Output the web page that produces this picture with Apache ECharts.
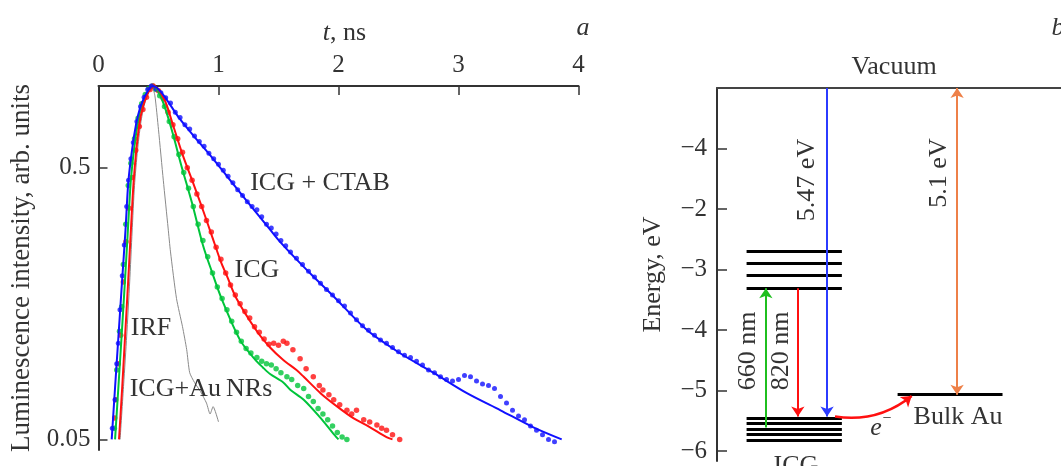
<!DOCTYPE html>
<html lang="en">
<head>
<meta charset="UTF-8">
<title>ICG luminescence decay and energy diagram</title>
<style>
    * { margin: 0; padding: 0; }
    html, body { width: 100%; height: 100%; background: #fff; }
    #main { width: 1061px; height: 466px; }
</style>
<script src="https://cdn.jsdelivr.net/npm/echarts@6/dist/echarts.min.js"></script>
</head>
<body>
<div id="main"></div>
<script>
// ---- panel a: luminescence decay, pairs of [t (ns), intensity (arb. units)] ----
var irf = [[0.18,0.05],[0.21,0.08],[0.235,0.12],[0.26,0.19],[0.28,0.29],[0.30,0.43],[0.325,0.58],[0.35,0.72],
    [0.375,0.83],[0.405,0.92],[0.43,0.98],[0.445,1.0],[0.47,0.92],[0.50,0.69],[0.54,0.45],[0.58,0.30],[0.60,0.245],
    [0.65,0.165],[0.70,0.13],[0.735,0.107],[0.76,0.088],[0.80,0.081],[0.85,0.075],[0.90,0.068],[0.93,0.062],
    [0.955,0.066],[1.0,0.058]];

var ctabFit = [[0.11,0.05],[0.1375,0.077],[0.167,0.121],[0.196,0.19],[0.225,0.295],[0.248,0.44],[0.279,0.58],
    [0.3125,0.72],[0.346,0.83],[0.3875,0.92],[0.43,0.985],[0.454,1.0],[0.53,0.94],[0.665,0.77],[0.80,0.65],
    [0.94,0.55],[1.08,0.46],[1.23,0.38],[1.42,0.30],[1.51,0.268],[1.65,0.23],[1.79,0.199],[1.96,0.168],
    [2.24,0.126],[2.51,0.104],[2.79,0.088],[3.07,0.074],[3.35,0.064],[3.62,0.0555],[3.86,0.05]];
var ctabDots = [[0.115,0.055],[0.1375,0.07],[0.152,0.095],[0.165,0.113],[0.179,0.15],[0.198,0.2],[0.215,0.26],
    [0.235,0.36],[0.25,0.45],[0.27,0.54],[0.29,0.62],[0.32,0.74],[0.35,0.84],[0.38,0.91],[0.41,0.97],[0.44,1.0],
    [0.48,0.975],[0.52,0.945],[0.56,0.905],[0.60,0.865],[0.64,0.8],[0.68,0.765],[0.72,0.72],[0.76,0.695],
    [0.80,0.655],[0.84,0.625],[0.88,0.6],[0.92,0.565],[0.96,0.54],[1.00,0.515],[1.04,0.49],[1.08,0.465],
    [1.12,0.44],[1.16,0.415],[1.20,0.395],[1.24,0.375],[1.28,0.36],[1.32,0.35],[1.36,0.33],[1.40,0.31],
    [1.44,0.3],[1.48,0.285],[1.52,0.27],[1.56,0.258],[1.60,0.245],[1.65,0.232],[1.70,0.22],[1.75,0.208],
    [1.80,0.198],[1.85,0.188],[1.90,0.178],[1.95,0.17],[2.00,0.162],[2.05,0.155],[2.10,0.146],[2.15,0.138],
    [2.20,0.131],[2.25,0.126],[2.30,0.121],[2.35,0.116],[2.40,0.113],[2.45,0.109],[2.50,0.105],[2.55,0.102],
    [2.60,0.1],[2.65,0.097],[2.70,0.094],[2.75,0.09],[2.80,0.088],[2.85,0.085],[2.90,0.083],[2.95,0.082],
    [3.00,0.083],[3.05,0.086],[3.10,0.085],[3.15,0.082],[3.20,0.08],[3.25,0.079],[3.30,0.077],[3.35,0.072],
    [3.40,0.068],[3.45,0.064],[3.50,0.061],[3.55,0.059],[3.60,0.056],[3.65,0.054],[3.70,0.052],[3.75,0.05],
    [3.80,0.049]];

var icgFit = [[0.171,0.05],[0.197,0.077],[0.222,0.121],[0.247,0.19],[0.27,0.295],[0.292,0.44],[0.315,0.58],
    [0.34,0.72],[0.367,0.83],[0.402,0.92],[0.438,0.985],[0.46,1.0],[0.55,0.89],[0.62,0.72],[0.70,0.56],
    [0.78,0.45],[0.86,0.36],[0.94,0.285],[1.02,0.225],[1.07,0.2],[1.15,0.165],[1.32,0.125],[1.43,0.109],
    [1.54,0.098],[1.65,0.09],[1.71,0.085],[1.85,0.074],[1.99,0.066],[2.12,0.06],[2.26,0.0555],[2.40,0.051],
    [2.45,0.05]];
var icgDots = [[0.135,0.06],[0.143,0.07],[0.165,0.095],[0.185,0.121],[0.207,0.19],[0.229,0.267],[0.254,0.355],
    [0.28,0.46],[0.31,0.58],[0.34,0.71],[0.37,0.82],[0.40,0.91],[0.43,0.97],[0.455,1.0],[0.50,0.96],[0.54,0.9],
    [0.58,0.8],[0.62,0.72],[0.66,0.64],[0.70,0.57],[0.74,0.5],[0.78,0.45],[0.82,0.4],[0.86,0.36],[0.90,0.32],
    [0.94,0.29],[0.98,0.255],[1.02,0.23],[1.06,0.205],[1.10,0.185],[1.14,0.17],[1.18,0.158],[1.22,0.148],
    [1.26,0.14],[1.30,0.13],[1.34,0.124],[1.38,0.117],[1.42,0.112],[1.46,0.113],[1.50,0.111],[1.54,0.115],
    [1.57,0.113],[1.62,0.107],[1.68,0.099],[1.73,0.091],[1.79,0.085],[1.84,0.079],[1.87,0.076],[1.92,0.073],
    [1.96,0.07],[2.01,0.067],[2.07,0.064],[2.11,0.062],[2.15,0.064],[2.21,0.059],[2.26,0.058],[2.32,0.0565],
    [2.36,0.055],[2.40,0.054],[2.45,0.052],[2.51,0.05]];

var auFit = [[0.138,0.05],[0.165,0.077],[0.193,0.121],[0.22,0.19],[0.245,0.295],[0.268,0.44],[0.295,0.58],
    [0.325,0.72],[0.355,0.83],[0.395,0.92],[0.435,0.985],[0.455,1.0],[0.53,0.89],[0.61,0.69],[0.69,0.51],
    [0.78,0.37],[0.87,0.26],[0.94,0.21],[1.03,0.163],[1.18,0.116],[1.30,0.099],[1.37,0.092],[1.43,0.087],
    [1.54,0.081],[1.60,0.076],[1.71,0.07],[1.85,0.06],[1.95,0.053],[2.0,0.05]];
var auDots = [[0.132,0.055],[0.152,0.09],[0.175,0.125],[0.193,0.154],[0.207,0.22],[0.227,0.31],[0.248,0.43],
    [0.27,0.52],[0.30,0.64],[0.33,0.76],[0.36,0.86],[0.39,0.93],[0.42,0.98],[0.45,1.0],[0.48,0.97],[0.51,0.92],
    [0.55,0.84],[0.59,0.74],[0.63,0.65],[0.67,0.56],[0.71,0.48],[0.75,0.42],[0.79,0.36],[0.83,0.31],[0.87,0.27],
    [0.91,0.235],[0.95,0.205],[0.99,0.182],[1.03,0.165],[1.07,0.15],[1.11,0.136],[1.15,0.124],[1.19,0.115],
    [1.23,0.108],[1.27,0.104],[1.32,0.1],[1.36,0.097],[1.40,0.095],[1.44,0.094],[1.48,0.091],[1.52,0.088],
    [1.57,0.085],[1.61,0.083],[1.66,0.079],[1.71,0.077],[1.75,0.072],[1.79,0.069],[1.83,0.065],[1.87,0.062],
    [1.91,0.059],[1.95,0.056],[1.99,0.053],[2.03,0.051],[2.07,0.05]];

var intensityTicks = [0.05, 0.5];
var intensityTickLabels = ['0.05', '0.5'];
var intensityBottom = 0.0457;

// ---- panel b: energy diagram (eV) ----
var icgUpper = [-2.69, -2.89, -3.10, -3.31];
var icgLower = [-5.46, -5.54, -5.64, -5.73, -5.83];
var icgSpan = [0.86, 3.63];
var auLevel = -5.07;
var auSpan = [5.25, 8.3];
var energyTicks = [-1, -2, -3, -4, -5, -6];
var energyTickLabels = ['\u22124', '\u22122', '\u22123', '\u22124', '\u22125', '\u22126'];
// transitions: x, from, to (660 nm up, 820 nm down, 5.47 eV down)
var transX = [1.42, 2.35, 3.2];
var transFrom = [-5.61, -3.31, 0];
var transTo = [-3.31, -5.43, -5.43];
var workX = 6.98;       // 5.1 eV, vacuum <-> bulk Au
var electronFrom = [3.43, -5.43];
var electronTo = [5.66, -5.09];

var serif = '"Liberation Serif", "Times New Roman", serif';
var ink = '#333';
var fs = 26;

function toLog(list) {
    return list.map(function (p) { return [p[0], Math.log10(p[1])]; });
}

function segs(levels, span) {
    return levels.map(function (e) { return {coords: [[span[0], e], [span[1], e]]}; });
}

function label(txt, x, y, extra) {
    extra = extra || {};
    return {
        type: 'text', x: x, y: y, rotation: extra.rot || 0, z: 100,
        style: {
            text: txt, fill: ink, align: 'center', verticalAlign: 'middle',
            font: (extra.italic ? 'italic ' : '') + (extra.size || fs) + 'px ' + serif
        }
    };
}

var chart = echarts.init(document.getElementById('main'));

var transColors = ['#1fbf1f', '#ff1010', '#2b3bff'];

var option = {
    animation: false,
    backgroundColor: '#fff',
    textStyle: {fontFamily: serif},
    grid: [
        {left: 98.5, top: 86, width: 480, height: 364},
        {left: 717, top: 88, right: 0, height: 373}
    ],
    xAxis: [
        {
            gridIndex: 0, type: 'value', position: 'top', min: 0, max: 4, interval: 1,
            name: '{i|t}, ns', nameLocation: 'middle', nameGap: 40,
            nameTextStyle: {
                fontSize: fs, color: ink, fontFamily: serif, padding: [0, 0, 0, 12],
                rich: {i: {fontStyle: 'italic', fontSize: fs, fontFamily: serif, color: ink}}
            },
            axisLine: {show: true, onZero: false, lineStyle: {color: ink, width: 2}},
            axisTick: {show: true, inside: true, length: 9, lineStyle: {color: ink, width: 1.5}},
            axisLabel: {fontSize: 25, color: ink, margin: 8, fontFamily: serif},
            splitLine: {show: false}
        },
        {
            gridIndex: 1, type: 'value', position: 'top', min: 0, max: 10,
            axisLine: {show: true, onZero: false, lineStyle: {color: '#444', width: 2}},
            axisTick: {show: false}, axisLabel: {show: false}, splitLine: {show: false}
        }
    ],
    yAxis: [
        {
            gridIndex: 0, type: 'value', min: Math.log10(intensityBottom), max: 0,
            name: 'Luminescence intensity, arb. units', nameLocation: 'middle', nameGap: 63, nameRotate: 90,
            nameTextStyle: {fontSize: 27, color: ink, fontFamily: serif},
            axisLine: {show: true, onZero: false, lineStyle: {color: ink, width: 2}},
            axisTick: {show: true, inside: true, length: 9, lineStyle: {color: ink, width: 1.5},
                customValues: intensityTicks.map(function (v) { return Math.log10(v); })},
            axisLabel: {
                fontSize: 25, color: ink, margin: 8, fontFamily: serif,
                customValues: intensityTicks.map(function (v) { return Math.log10(v); }),
                formatter: function (v) {
                    for (var i = 0; i < intensityTicks.length; i++) {
                        if (Math.abs(Math.log10(intensityTicks[i]) - v) < 1e-6) return intensityTickLabels[i];
                    }
                    return '';
                }
            },
            splitLine: {show: false}
        },
        {
            gridIndex: 1, type: 'value', min: -6.165, max: 0,
            name: 'Energy, eV', nameLocation: 'middle', nameGap: 51, nameRotate: 90,
            nameTextStyle: {fontSize: fs, color: ink, fontFamily: serif},
            axisLine: {show: true, onZero: false, lineStyle: {color: ink, width: 2}},
            axisTick: {show: true, inside: true, length: 10, lineStyle: {color: ink, width: 1.5},
                customValues: energyTicks},
            axisLabel: {
                fontSize: 25, color: ink, margin: 10, fontFamily: serif,
                customValues: energyTicks,
                formatter: function (v) {
                    var i = energyTicks.indexOf(Math.round(v));
                    return i < 0 ? '' : energyTickLabels[i];
                }
            },
            splitLine: {show: false}
        }
    ],
    series: [
        {type: 'line', name: 'IRF', data: toLog(irf), showSymbol: false, smooth: 0.2,
            lineStyle: {color: '#8a8a8a', width: 1}, z: 1},
        {type: 'scatter', name: 'ICG+AuNRs pts', data: toLog(auDots), symbolSize: 5.5,
            itemStyle: {color: '#00c43a'}, z: 2},
        {type: 'scatter', name: 'ICG pts', data: toLog(icgDots), symbolSize: 5.5,
            itemStyle: {color: '#ff1010'}, z: 2},
        {type: 'scatter', name: 'ICG+CTAB pts', data: toLog(ctabDots), symbolSize: 5,
            itemStyle: {color: '#1010ff'}, z: 2},
        {type: 'line', name: 'ICG+AuNRs fit', data: toLog(auFit), showSymbol: false, smooth: 0.3,
            lineStyle: {color: '#00c43a', width: 2}, z: 3},
        {type: 'line', name: 'ICG fit', data: toLog(icgFit), showSymbol: false, smooth: 0.3,
            lineStyle: {color: '#ff1010', width: 2}, z: 3},
        {type: 'line', name: 'ICG+CTAB fit', data: toLog(ctabFit), showSymbol: false, smooth: 0.3,
            lineStyle: {color: '#1010ff', width: 2}, z: 3},

        // panel b
        {type: 'lines', coordinateSystem: 'cartesian2d', xAxisIndex: 1, yAxisIndex: 1,
            data: segs(icgUpper, icgSpan).concat(segs(icgLower, icgSpan), segs([auLevel], auSpan)),
            lineStyle: {color: '#000', width: 3, opacity: 1}, symbol: 'none', z: 2},
        {type: 'lines', coordinateSystem: 'cartesian2d', xAxisIndex: 1, yAxisIndex: 1,
            data: transX.map(function (x, i) {
                return {coords: [[x, transFrom[i]], [x, transTo[i]]], lineStyle: {color: transColors[i]}};
            }),
            symbol: ['none', 'arrow'], symbolSize: 10,
            lineStyle: {width: 2, opacity: 1}, z: 3},
        {type: 'lines', coordinateSystem: 'cartesian2d', xAxisIndex: 1, yAxisIndex: 1,
            data: [{coords: [[workX, 0], [workX, auLevel]]}],
            symbol: ['arrow', 'arrow'], symbolSize: 10,
            lineStyle: {color: '#ee8048', width: 2, opacity: 1}, z: 3},
        {type: 'lines', coordinateSystem: 'cartesian2d', xAxisIndex: 1, yAxisIndex: 1,
            data: [{coords: [electronFrom, electronTo]}],
            symbol: ['none', 'arrow'], symbolSize: 10,
            lineStyle: {color: '#ff1010', width: 2.5, opacity: 1, curveness: -0.22}, z: 3}
    ],
    graphic: [
        label('a', 583, 28, {italic: true}),
        label('ICG + CTAB', 320, 183),
        label('ICG', 257, 270),
        label('IRF', 151, 328),
        label('ICG+Au\u2009NRs', 201, 389),
        label('b', 1058, 28, {italic: true}),
        label('Vacuum', 894, 67),
        label('5.47 eV', 807, 180, {rot: Math.PI / 2}),
        label('5.1 eV', 939, 173, {rot: Math.PI / 2}),
        label('660 nm', 748, 351, {rot: Math.PI / 2}),
        label('820 nm', 781, 351, {rot: Math.PI / 2}),
        label('e', 876, 428, {italic: true}),
        label('\u2212', 887, 419, {size: 16}),
        label('Bulk Au', 958, 417),
        label('ICG', 796, 466)
    ]
};

chart.setOption(option);
</script>
</body>
</html>
